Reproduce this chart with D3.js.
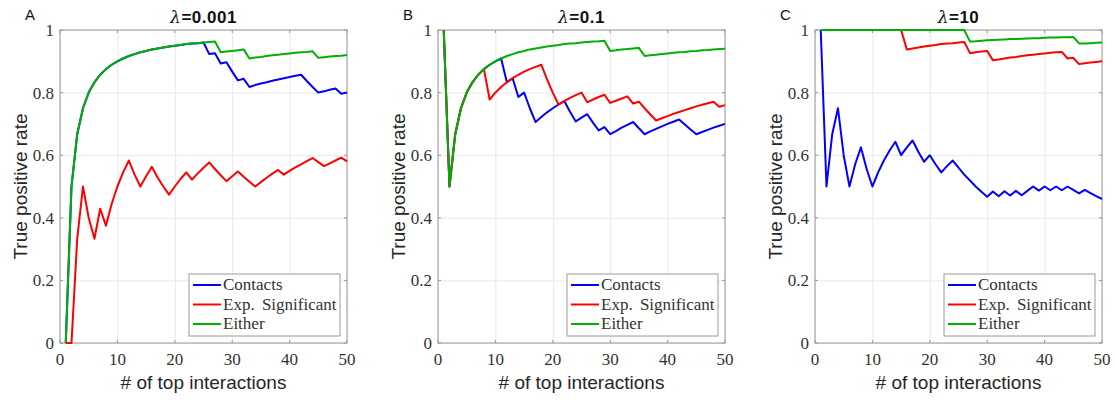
<!DOCTYPE html>
<html>
<head>
<meta charset="utf-8">
<script src="https://cdn.jsdelivr.net/npm/d3@7"></script>
<style>
  body { margin: 0; background: #fff; }
  .tlabel { font-family: "Liberation Serif", serif; font-size: 17px; fill: #333; }
  .alabel { font-family: "Liberation Sans", Arial, sans-serif; font-size: 19px; fill: #262626; }
</style>
</head>
<body>
<div id="chart"></div>
<script>
// x = number of top interactions
var interactions = [1,2,3,4,5,6,7,8,9,10,11,12,13,14,15,16,17,18,19,20,21,22,23,24,25,
  26,27,28,29,30,31,32,33,34,35,36,37,38,39,40,41,42,43,44,45,46,47,48,49,50];

var seriesNames = ["Contacts", "Exp. Significant", "Either"];
var yTicks = [0, 0.2, 0.4, 0.6, 0.8, 1];
var xTicks = [0, 10, 20, 30, 40, 50];

// panel A, lambda = 0.001
var contactsA = [0,0.5,0.667,0.75,0.8,0.833,0.857,0.875,0.889,0.9,
  0.909,0.917,0.923,0.929,0.933,0.938,0.941,0.944,0.947,0.95,
  0.952,0.955,0.957,0.958,0.96,0.923,0.926,0.893,0.897,0.867,
  0.839,0.844,0.818,0.824,0.829,0.833,0.838,0.842,0.846,0.85,
  0.854,0.857,0.837,0.818,0.8,0.804,0.809,0.813,0.796,0.8];
var expSigA = [0,0,0.333,0.5,0.4,0.333,0.429,0.375,0.444,0.5,
  0.545,0.583,0.538,0.5,0.533,0.563,0.529,0.5,0.474,0.5,
  0.524,0.545,0.522,0.542,0.56,0.577,0.556,0.536,0.517,0.533,
  0.548,0.531,0.515,0.5,0.514,0.528,0.541,0.553,0.538,0.55,
  0.561,0.571,0.581,0.591,0.578,0.565,0.574,0.583,0.592,0.58];
var eitherA = [0,0.5,0.667,0.75,0.8,0.833,0.857,0.875,0.889,0.9,
  0.909,0.917,0.923,0.929,0.933,0.938,0.941,0.944,0.947,0.95,
  0.952,0.955,0.957,0.958,0.96,0.962,0.963,0.929,0.931,0.933,
  0.935,0.938,0.909,0.912,0.914,0.917,0.919,0.921,0.923,0.925,
  0.927,0.929,0.93,0.932,0.911,0.913,0.915,0.917,0.918,0.92];

// panel B, lambda = 0.1
var contactsB = [1,0.5,0.667,0.75,0.8,0.833,0.857,0.875,0.889,0.9,
  0.909,0.833,0.846,0.786,0.8,0.75,0.706,0.722,0.737,0.75,
  0.762,0.773,0.739,0.708,0.72,0.731,0.704,0.679,0.69,0.667,
  0.677,0.688,0.697,0.706,0.686,0.667,0.676,0.684,0.692,0.7,
  0.707,0.714,0.698,0.682,0.667,0.674,0.681,0.688,0.694,0.7];
var expSigB = [1,0.5,0.667,0.75,0.8,0.833,0.857,0.875,0.778,0.8,
  0.818,0.833,0.846,0.857,0.867,0.875,0.882,0.889,0.842,0.8,
  0.762,0.773,0.783,0.792,0.8,0.769,0.778,0.786,0.793,0.767,
  0.774,0.781,0.788,0.765,0.771,0.75,0.73,0.711,0.718,0.725,
  0.732,0.738,0.744,0.75,0.756,0.761,0.766,0.771,0.755,0.76];
var eitherB = [1,0.5,0.667,0.75,0.8,0.833,0.857,0.875,0.889,0.9,
  0.909,0.917,0.923,0.929,0.933,0.938,0.941,0.944,0.947,0.95,
  0.952,0.955,0.957,0.958,0.96,0.962,0.963,0.964,0.966,0.933,
  0.935,0.938,0.939,0.941,0.943,0.917,0.919,0.921,0.923,0.925,
  0.927,0.929,0.93,0.932,0.933,0.935,0.936,0.938,0.939,0.94];

// panel C, lambda = 10
var contactsC = [1,0.5,0.667,0.75,0.6,0.5,0.571,0.625,0.556,0.5,
  0.545,0.583,0.615,0.643,0.6,0.625,0.647,0.611,0.579,0.6,
  0.571,0.545,0.565,0.583,0.56,0.538,0.519,0.5,0.483,0.467,
  0.484,0.469,0.485,0.471,0.486,0.472,0.486,0.5,0.487,0.5,
  0.488,0.5,0.488,0.5,0.489,0.478,0.489,0.479,0.469,0.46];
var expSigC = [1,1,1,1,1,1,1,1,1,1,
  1,1,1,1,1,0.938,0.941,0.944,0.947,0.95,
  0.952,0.955,0.957,0.958,0.96,0.962,0.926,0.929,0.931,0.933,
  0.903,0.906,0.909,0.912,0.914,0.917,0.919,0.921,0.923,0.925,
  0.927,0.929,0.93,0.909,0.911,0.891,0.894,0.896,0.898,0.9];
var eitherC = [1,1,1,1,1,1,1,1,1,1,
  1,1,1,1,1,1,1,1,1,1,
  1,1,1,1,1,1,0.963,0.964,0.966,0.967,
  0.968,0.969,0.97,0.971,0.971,0.972,0.973,0.974,0.974,0.975,
  0.976,0.976,0.977,0.977,0.978,0.957,0.957,0.958,0.959,0.96];

var colors = ["#0000ff", "#ff0000", "#00b000"];

var panels = [
  { letter: "A", lambda: "=0.001", left: 60, data: [contactsA, expSigA, eitherA] },
  { letter: "B", lambda: "=0.1", left: 438, data: [contactsB, expSigB, eitherB] },
  { letter: "C", lambda: "=10", left: 815, data: [contactsC, expSigC, eitherC] }
];

var plotTop = 30, plotW = 287, plotH = 313;
var spine = "#9a9a9a";

var svg = d3.select("#chart").append("svg")
  .attr("width", 1115)
  .attr("height", 400);

panels.forEach(function(p) {
  var g = svg.append("g").attr("transform", `translate(${p.left}, ${plotTop})`);

  var x = d3.scaleLinear().domain([0, 50]).range([0, plotW]);
  var y = d3.scaleLinear().domain([0, 1]).range([plotH, 0]);

  // grid
  g.append("g")
    .attr("transform", `translate(0, ${plotH})`)
    .call(d3.axisBottom(x).tickValues(xTicks).tickSize(-plotH).tickFormat(""))
    .call(a => a.select(".domain").remove())
    .selectAll("line").attr("stroke", "#e8e8e8");
  g.append("g")
    .call(d3.axisLeft(y).tickValues(yTicks).tickSize(-plotW).tickFormat(""))
    .call(a => a.select(".domain").remove())
    .selectAll("line").attr("stroke", "#e8e8e8");

  // box
  g.append("rect")
    .attr("width", plotW).attr("height", plotH)
    .attr("fill", "none").attr("stroke", spine).attr("stroke-width", 1);

  // inward ticks on all four sides
  var tk = 3;
  xTicks.forEach(function(t) {
    g.append("line").attr("x1", x(t)).attr("x2", x(t)).attr("y1", plotH).attr("y2", plotH - tk).attr("stroke", spine);
    g.append("line").attr("x1", x(t)).attr("x2", x(t)).attr("y1", 0).attr("y2", tk).attr("stroke", spine);
  });
  yTicks.forEach(function(t) {
    g.append("line").attr("x1", 0).attr("x2", tk).attr("y1", y(t)).attr("y2", y(t)).attr("stroke", spine);
    g.append("line").attr("x1", plotW).attr("x2", plotW - tk).attr("y1", y(t)).attr("y2", y(t)).attr("stroke", spine);
  });

  // tick labels
  g.selectAll(".xt").data(xTicks).enter().append("text")
    .attr("class", "tlabel")
    .attr("x", d => x(d)).attr("y", plotH + 22)
    .attr("text-anchor", "middle")
    .text(d => d);
  g.selectAll(".yt").data(yTicks).enter().append("text")
    .attr("class", "tlabel")
    .attr("x", -6).attr("y", d => y(d) + 6)
    .attr("text-anchor", "end")
    .text(d => d);

  // the lines
  var line = d3.line()
    .x((d, i) => x(interactions[i]))
    .y(d => y(d));
  p.data.forEach(function(vals, k) {
    g.append("path")
      .datum(vals)
      .attr("d", line)
      .attr("fill", "none")
      .attr("stroke", colors[k])
      .attr("stroke-width", 2)
      .attr("stroke-linejoin", "round");
  });

  // axis labels
  g.append("text")
    .attr("class", "alabel")
    .attr("x", plotW / 2).attr("y", 359)
    .attr("text-anchor", "middle")
    .text("# of top interactions");
  g.append("text")
    .attr("class", "alabel")
    .attr("transform", `translate(-33, ${plotH / 2}) rotate(-90)`)
    .attr("text-anchor", "middle")
    .text("True positive rate");

  // title
  var title = g.append("text")
    .attr("x", plotW / 2).attr("y", -7)
    .attr("text-anchor", "middle")
    .style("font-family", "'Liberation Sans', Arial, sans-serif")
    .style("font-size", "17px")
    .style("font-weight", "bold")
    .style("letter-spacing", "0.5px")
    .attr("fill", "#111");
  title.append("tspan")
    .style("font-family", "'DejaVu Serif', serif")
    .style("font-style", "italic")
    .style("font-weight", "normal")
    .text("\u03bb");
  title.append("tspan").text(p.lambda);

  // panel letter
  g.append("text")
    .attr("x", -35).attr("y", -10)
    .style("font-family", "'Liberation Sans', Arial, sans-serif")
    .style("font-size", "15px")
    .attr("fill", "#111")
    .text(p.letter);

  // legend
  var lg = g.append("g").attr("transform", `translate(${plotW - 158}, ${plotH - 69})`);
  lg.append("rect")
    .attr("width", 151).attr("height", 62)
    .attr("fill", "#fff").attr("stroke", spine);
  seriesNames.forEach(function(name, k) {
    var ry = 11 + k * 19.5;
    lg.append("line")
      .attr("x1", 4).attr("x2", 32).attr("y1", ry).attr("y2", ry)
      .attr("stroke", colors[k]).attr("stroke-width", 2);
    lg.append("text")
      .attr("class", "tlabel")
      .attr("x", 34).attr("y", ry + 5)
      .style("word-spacing", "3px")
      .text(name);
  });
});
</script>
</body>
</html>
